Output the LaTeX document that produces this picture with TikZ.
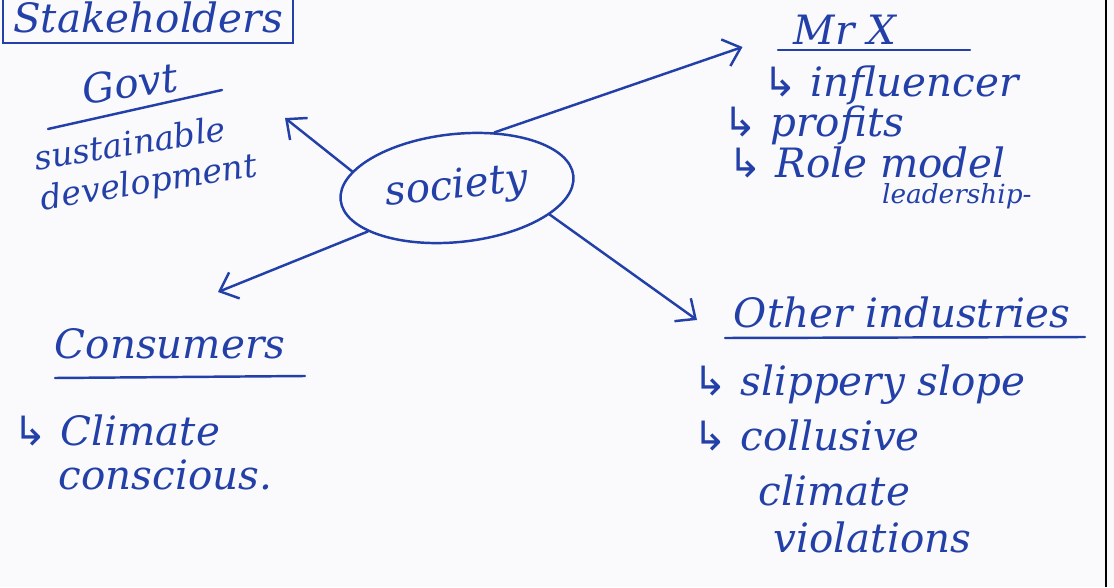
\documentclass[tikz,border=0pt]{standalone}
\usepackage{fontspec}
\setmainfont{DejaVu Serif}
\newfontfamily\symfont{DejaVu Sans}
\usetikzlibrary{arrows.meta,shapes.geometric,positioning}
\definecolor{penBlue}{HTML}{2340A8}
\definecolor{paperWhite}{HTML}{FAFAFC}
\newcommand{\subarrow}{{\symfont\upshape\char"21B3}\ }

\begin{document}
\begin{tikzpicture}[
  every node/.style={text=penBlue,font=\fontsize{23}{28}\selectfont\itshape,inner sep=2pt},
  item/.style={anchor=west},
  small/.style={font=\fontsize{15}{18}\selectfont\itshape},
  mid/.style={font=\fontsize{19}{23}\selectfont\itshape},
  hub/.style={ellipse,draw=penBlue,line width=1.4pt,minimum width=4.68cm,minimum height=2.16cm},
  uline/.style={draw=penBlue,line width=1.4pt,line cap=round},
  e/.style={-{Straight Barb[length=9pt,width=16pt]},line width=1.4pt,draw=penBlue,line cap=round},
]
\useasboundingbox (0,0) rectangle (22.28,11.74);
\clip (0,0) rectangle (22.28,11.74);
\fill[paperWhite] (0,0) rectangle (22.28,11.74);
\draw[black,line width=1.2pt] (22.12,0) -- (22.12,11.74);

% centre
\node[hub,rotate=6] (soc) at (9.14,7.98) {society};

% title box, top runs off the page
\node[draw=penBlue,line width=1.4pt,minimum width=5.8cm,minimum height=1.0cm,anchor=south] (stake) at (2.96,10.86) {Stakeholders};

% Govt -- top left
\node[rotate=8] (govt) at (2.6,10.08) {Govt};
\draw[uline] (0.96,9.16) -- (4.44,9.94);
\node[rotate=9,mid,align=left,inner sep=0pt] (sust) at (2.92,8.46) {sustainable\\development};
\coordinate (govtTip) at (5.7,9.38);
\draw[e] (soc.165) -- (govtTip);

% Mr X -- top right
\node (mrx) at (16.9,11.14) {Mr X};
\draw[uline] (15.56,10.74) -- (19.4,10.74);
\node[item] (infl) at (15.2,10.04) {\subarrow influencer};
\node[item] (prof) at (14.4,9.24)  {\subarrow profits};
\node[item] (role) at (14.5,8.5)   {\subarrow Role model};
\node[item,small,inner sep=1pt] (lead) at (17.6,7.82) {leadership-};
\coordinate (mrxTip) at (14.85,10.8);
\draw[e] (soc.50) -- (mrxTip);

% Consumers -- bottom left
\node (cons) at (3.4,4.86) {Consumers};
\draw[uline] (1.1,4.18) -- (6.1,4.22);
\node[item] (clim1) at (0.2,3.14) {\subarrow Climate};
\node[item] (consc) at (1.1,2.24) {conscious.};
\coordinate (consTip) at (4.36,5.9);
\draw[e] (soc.200) -- (consTip);

% Other industries -- bottom right
\node[item] (oth) at (14.6,5.5) {Other industries};
\draw[uline] (14.5,4.98) -- (21.7,5.0);
\node[item] (slip)  at (13.8,4.04) {\subarrow slippery slope};
\node[item] (coll)  at (13.8,3.04) {\subarrow collusive};
\node[item] (clim2) at (15.1,1.94) {climate};
\node[item] (viol)  at (15.4,1.0)  {violations};
\coordinate (othTip) at (13.94,5.34);
\draw[e] (soc.-22) -- (othTip);
\end{tikzpicture}
\end{document}
